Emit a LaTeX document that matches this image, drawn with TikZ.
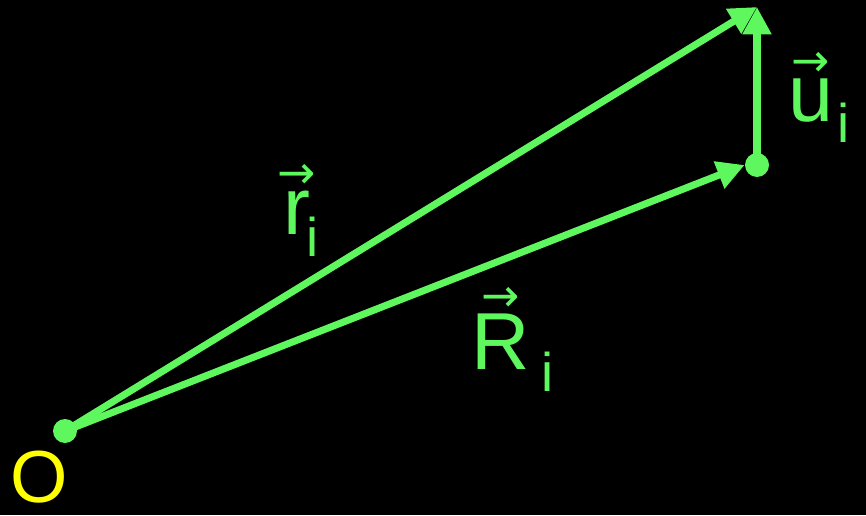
\documentclass[tikz,border=0pt]{standalone}
\usepackage{fontspec}
\setmainfont{Liberation Sans}
\newfontfamily\arrowfont{DejaVu Sans}
\usetikzlibrary{arrows.meta}
\definecolor{vecgreen}{HTML}{5EF85E}
\definecolor{origin}{HTML}{FFFF00}
\tikzset{
  vecline/.style={vecgreen,line width=4pt,-{Triangle[length=5.5mm,width=5.5mm]}},
  dot/.style={circle,fill=vecgreen,inner sep=0pt,minimum size=4.8mm},
  vecname/.style={vecgreen,inner sep=0pt,anchor=south,font=\fontsize{46}{46}\selectfont},
  subname/.style={vecgreen,inner sep=0pt,anchor=south,font=\fontsize{31}{31}\selectfont},
  arrowmark/.style={vecgreen,inner sep=0pt,label distance=1pt,
    font=\arrowfont\fontsize{26}{26}\selectfont}
}
\begin{document}
\begin{tikzpicture}
  % Background
  \fill[black](0,0)rectangle(17.32,10.30);
  \useasboundingbox(0,0)rectangle(17.32,10.30);
  % Points
  \node[dot](O)at(1.30,1.68){};
  \node[dot](P)at(15.14,7.00){};
  \coordinate(T)at(15.14,10.16);
  % Vectors
  \draw[vecline](O.center)--(T);
  \draw[vecline](O.center)--(P.west);
  \draw[vecline](P.center)--(T);
  % Labels
  \node[vecname,label={[arrowmark]above:→}](rname)at(5.94,5.60){r};
  \node[subname](rsub)at(6.26,5.16){i};
  \node[vecname,label={[arrowmark]above:→}](Rname)at(10.02,2.90){R};
  \node[subname](Rsub)at(10.96,2.46){i};
  \node[vecname,label={[arrowmark]above:→}](uname)at(16.22,7.84){u};
  \node[subname](usub)at(16.88,7.44){i};
  \node[origin,inner sep=0pt,anchor=south,font=\fontsize{42}{42}\selectfont]
    (Oname)at(0.78,0.22){O};
\end{tikzpicture}
\end{document}
